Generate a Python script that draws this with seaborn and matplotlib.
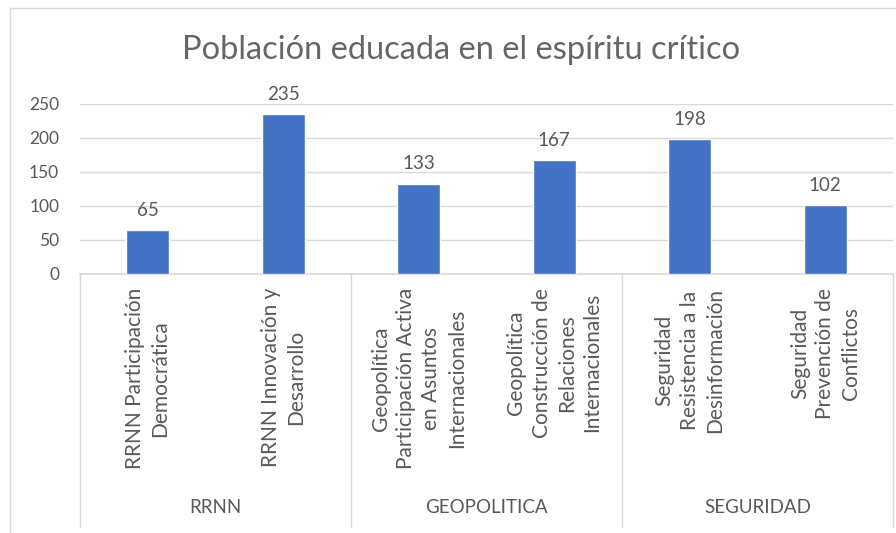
import matplotlib
matplotlib.use("Agg")
import matplotlib.pyplot as plt
import matplotlib.transforms as mtransforms
from matplotlib.patches import Rectangle
import seaborn as sns
import pandas as pd

# data
categories = [
    "RRNN Participación\nDemocrática",
    "RRNN Innovación y\nDesarrollo",
    "Geopolítica\nParticipación Activa\nen Asuntos\nInternacionales",
    "Geopolítica\nConstrucción de\nRelaciones\nInternacionales",
    "Seguridad\nResistencia a la\nDesinformación",
    "Seguridad\nPrevención de\nConflictos",
]
values = [65, 235, 133, 167, 198, 102]
groups = ["RRNN", "GEOPOLITICA", "SEGURIDAD"]
group_sizes = [2, 2, 2]
title = "Población educada en el espíritu crítico"

text_color = "#595959"
bar_color = "#4472C4"
grid_color = "#D9D9D9"

sns.set_theme(style="white")
plt.rcParams["font.family"] = ["Lato", "DejaVu Sans"]

df = pd.DataFrame({"categoria": categories, "valor": values})

fig = plt.figure(figsize=(8.96, 5.33), dpi=100)
ax = fig.add_axes([80 / 896, 1 - 274 / 533, 813 / 896, 170 / 533])

sns.barplot(data=df, x="categoria", y="valor", color=bar_color,
            width=0.32, saturation=1, ax=ax, zorder=3)

ax.set_ylim(0, 250)
ax.set_xlim(-0.5, len(categories) - 0.5)
ax.set_yticks([0, 50, 100, 150, 200, 250])
ax.yaxis.grid(True, color=grid_color, linewidth=1, zorder=0)
ax.set_axisbelow(True)
for side in ["top", "right", "left"]:
    ax.spines[side].set_visible(False)
ax.spines["bottom"].set_color(grid_color)
ax.set_xlabel("")
ax.set_ylabel("")

ax.tick_params(axis="y", length=0, pad=15, labelsize=12.5, labelcolor=text_color)
ax.tick_params(axis="x", length=0, pad=10, labelsize=15, labelcolor=text_color)
ax.set_xticks(range(len(categories)))
ax.set_xticklabels(categories, rotation=90, ha="center", va="top",
                   multialignment="center", linespacing=1.33)

ax.bar_label(ax.containers[0], fontsize=13.5, color=text_color, padding=8)

# group separators and group labels below the category labels
trans = mtransforms.blended_transform_factory(ax.transData, ax.transAxes)
edge = -0.5
bounds = [edge]
for n in group_sizes:
    bounds.append(bounds[-1] + n)
for b in bounds:
    ax.plot([b, b], [0, -1.488], transform=trans, color=grid_color,
            linewidth=1, clip_on=False)
for g, lo, hi in zip(groups, bounds[:-1], bounds[1:]):
    ax.text((lo + hi) / 2, -1.376, g, transform=trans, ha="center",
            va="center", fontsize=13.5, color=text_color)

# chart border (bottom and right edges fall outside the picture)
fig.patches.append(Rectangle((10 / 896, -0.05), 1.0, 1.05 - 8 / 533,
                             transform=fig.transFigure, fill=False,
                             edgecolor=grid_color, linewidth=1))

fig.text(461 / 896, 1 - 50 / 533, title, ha="center", va="center",
         fontsize=23.5, color="#666666", fontweight="normal")

fig.savefig("out.png", dpi=100)
